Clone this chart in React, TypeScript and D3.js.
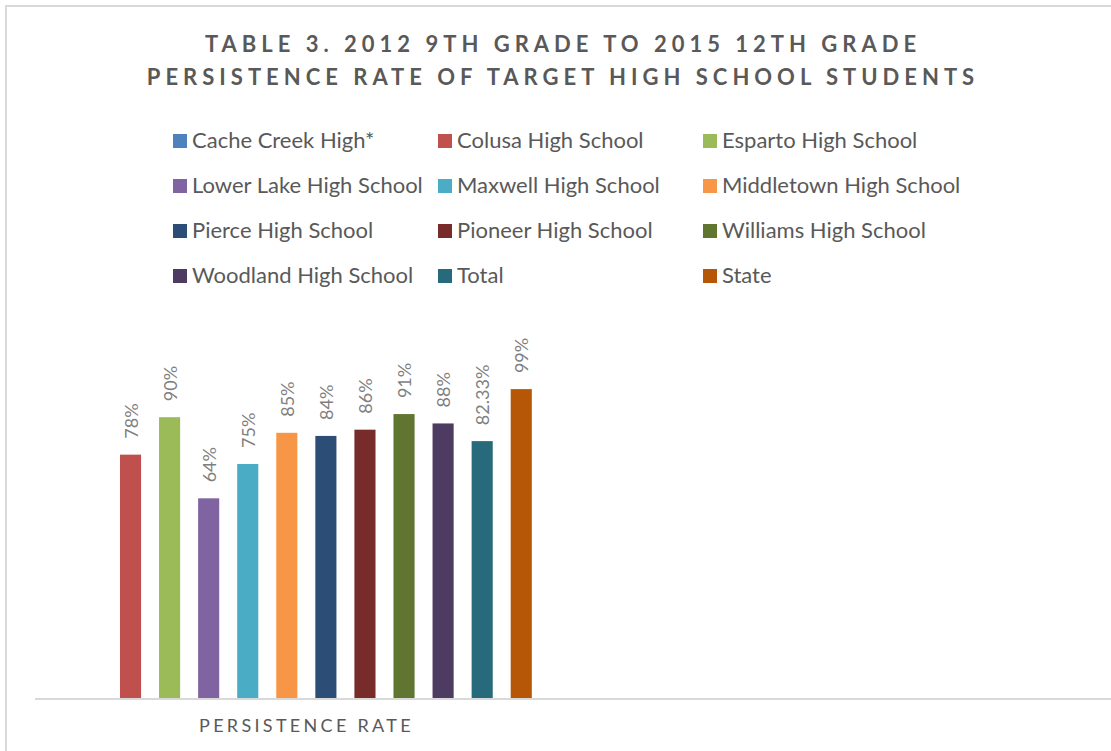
import React from "react";
import * as d3 from "d3";

const titleLines = [
  "TABLE 3. 2012 9TH GRADE TO 2015 12TH GRADE",
  "PERSISTENCE RATE OF TARGET HIGH SCHOOL STUDENTS",
];
const categories = ["PERSISTENCE RATE", ""];
const seriesNames = [
  "Cache Creek High*",
  "Colusa High School",
  "Esparto High School",
  "Lower Lake High School",
  "Maxwell High School",
  "Middletown High School",
  "Pierce High School",
  "Pioneer High School",
  "Williams High School",
  "Woodland High School",
  "Total",
  "State",
];
const seriesValues: (number | null)[] = [
  null, 0.78, 0.9, 0.64, 0.75, 0.85, 0.84, 0.86, 0.91, 0.88, 0.8233, 0.99,
];
const seriesLabels = [
  "", "78%", "90%", "64%", "75%", "85%", "84%", "86%", "91%", "88%", "82.33%", "99%",
];
const seriesColors = [
  "#4F81BD", "#C0504D", "#9BBB59", "#8064A2", "#4BACC6", "#F79646",
  "#2C4D75", "#772C2A", "#5F7530", "#4D3B62", "#276A7C", "#B65708",
];

const W = 1111;
const H = 751;
const FONT = "Lato, Carlito, Calibri, 'Open Sans', sans-serif";

export default function App() {
  const plotLeft = 35;
  const plotRight = 1115;
  const baseY = 698;
  const x0 = d3.scaleBand<string>().domain(categories).range([plotLeft, plotRight]);
  const bw = x0.bandwidth();
  const cat = categories[0];
  const cx0 = x0(cat)!;
  const x1 = d3
    .scaleBand<string>()
    .domain(seriesNames)
    .range([cx0 + bw * 0.085, cx0 + bw * (1 - 0.08)])
    .paddingInner(0.46)
    .paddingOuter(0);
  const y = d3.scaleLinear().domain([0, 1]).range([baseY, 386]);

  const legendCols = [173, 438, 703];
  const legendTop = 134;
  const legendRowH = 45;

  return (
    <svg
      width={W}
      height={H}
      style={{ position: "absolute", left: 0, top: 0, background: "#fff" }}
      fontFamily={FONT}
    >
      <rect x={0} y={0} width={W} height={H} fill="#fff" />
      <rect x={6} y={6} width={1200} height={1000} fill="#fff" stroke="#d9d9d9" strokeWidth={2} />
      {titleLines.map((t, i) => (
        <text
          key={i}
          x={563}
          y={52 + i * 33}
          textAnchor="middle"
          fontSize={22}
          fontWeight="bold"
          letterSpacing={5}
          fill="#595959"
        >
          {t}
        </text>
      ))}
      {seriesNames.map((name, i) => {
        const col = i % 3;
        const row = Math.floor(i / 3);
        const sx = legendCols[col];
        const sy = legendTop + row * legendRowH;
        return (
          <g key={name}>
            <rect x={sx} y={sy} width={14} height={14} fill={seriesColors[i]} />
            <text x={sx + 19} y={sy + 14} fontSize={22} fill="#595959">
              {name}
            </text>
          </g>
        );
      })}
      {seriesNames.map((name, i) => {
        const v = seriesValues[i];
        if (v == null) return null;
        const bx = x1(name)!;
        const top = y(v);
        const cx = bx + x1.bandwidth() / 2;
        return (
          <g key={name}>
            <rect x={bx} y={top} width={x1.bandwidth()} height={baseY - top} fill={seriesColors[i]} />
            <text
              transform={`translate(${cx},${top - 16}) rotate(-90)`}
              fontSize={18}
              fill="#7f7f7f"
              dominantBaseline="central"
            >
              {seriesLabels[i]}
            </text>
          </g>
        );
      })}
      <line x1={plotLeft} x2={plotRight} y1={699} y2={699} stroke="#d9d9d9" strokeWidth={2} />
      {categories.map((c) => (
        <text
          key={c || "blank"}
          x={x0(c)! + bw / 2 + 1.5}
          y={732}
          textAnchor="middle"
          fontSize={18}
          letterSpacing={3.3}
          fill="#595959"
        >
          {c}
        </text>
      ))}
    </svg>
  );
}
